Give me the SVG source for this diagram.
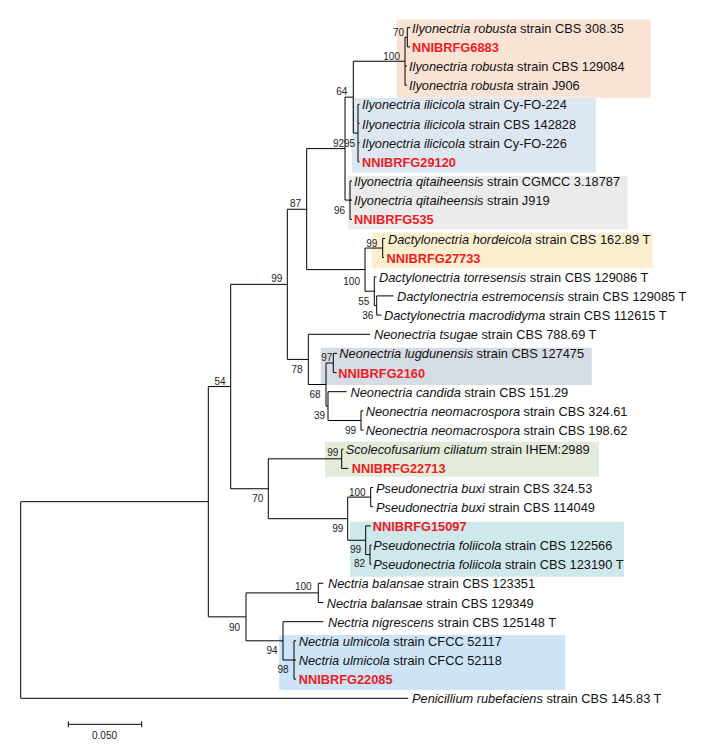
<svg xmlns="http://www.w3.org/2000/svg" width="702" height="750" viewBox="0 0 702 750">
<style>
.lf{font-family:"Liberation Sans",Arial,sans-serif;font-size:12.8px;fill:#111}
.i{font-style:italic}
.red{font-family:"Liberation Sans",Arial,sans-serif;font-size:12.8px;font-weight:bold;fill:#EE1C25}
.bs{font-family:"Liberation Sans",Arial,sans-serif;font-size:10px;fill:#222}
.br{fill:none;stroke:#000;stroke-width:1}
</style>
<rect width="702" height="750" fill="#fff"/>
<g id="highlights">
<rect x="396.7" y="19.5" width="254" height="78.2" fill="#FAE3D5"/>
<rect x="351.7" y="98" width="244.3" height="74.7" fill="#DCE7F2"/>
<rect x="348.3" y="176" width="279.4" height="53.3" fill="#EBEBEB"/>
<rect x="371.7" y="232.7" width="281" height="35.6" fill="#FCEFD0"/>
<rect x="320.7" y="347.7" width="271" height="37.3" fill="#D6DCE4"/>
<rect x="325" y="441.7" width="274" height="35" fill="#E2ECD9"/>
<rect x="350" y="521.7" width="274" height="55" fill="#CFE8EC"/>
<rect x="279.3" y="635" width="286" height="55" fill="#CCE4F6"/>
</g>
<g id="connectors" class="br">
<path d="M20.7 501.7V698.3M20.7 698.3H408.3M20.7 501.7H208.3"/>
<path d="M208.3 386.55V616.85M208.3 386.55H230.7M208.3 616.85H246"/>
<path d="M230.7 284.35V488.75M230.7 284.35H287.3M230.7 488.75H268.3"/>
<path d="M287.3 209.25V359.4M287.3 209.25H306.7M287.3 359.4H308.3"/>
<path d="M306.7 148.6V269.6M306.7 148.6H345M306.7 269.6H365"/>
<path d="M345 97.15V200.1M345 97.15H353.3M345 200.1H350"/>
<path d="M353.3 61.25V133.05M353.3 61.25H405M353.3 133.05H358"/>
<path d="M405 37.3V85.2M405 37.3H407.3M405 66H407M405 85.2H407"/>
<path d="M407.3 27.7V46.9M407.3 27.7H410M407.3 46.9H410"/>
<path d="M358 104.3V161.8M358 104.3H359.5M358 123.5H359.5M358 142.7H359.5M358 161.8H359.5"/>
<path d="M350 181V219.3M350 181H352M350 200.1H352M350 219.3H352"/>
<path d="M365 248.05V291.2M365 248.05H382.7M365 291.2H374.3"/>
<path d="M382.7 238.5V257.6M382.7 238.5H385M382.7 257.6H384"/>
<path d="M374.3 276.8V305.5M374.3 276.8H376.5M374.3 305.5H376.7"/>
<path d="M376.7 295.9V315.1M376.7 295.9H393.5M376.7 315.1H381.3"/>
<path d="M308.3 334.3V384.5M308.3 334.3H370M308.3 384.5H326"/>
<path d="M326 363V406.1M326 363H333.3M326 406.1H328"/>
<path d="M333.3 353.4V372.6M333.3 353.4H337M333.3 372.6H336.7"/>
<path d="M328 391.7V420.5M328 391.7H346.7M328 420.5H361"/>
<path d="M361 410.9V430.1M361 410.9H363.5M361 430.1H363.5"/>
<path d="M268.3 458.8V518.7M268.3 458.8H341.7M268.3 518.7H347.7"/>
<path d="M341.7 449.2V468.4M341.7 449.2H343.5M341.7 468.4H348.3"/>
<path d="M347.7 497.1V540.25M347.7 497.1H370.7M347.7 540.25H365.7"/>
<path d="M370.7 487.5V506.7M370.7 487.5H373M370.7 506.7H373"/>
<path d="M365.7 525.9V554.6M365.7 525.9H370.7M365.7 554.6H370"/>
<path d="M370 545V564.2M370 545H371.5M370 564.2H371.5"/>
<path d="M246 592.9V640.8M246 592.9H318.3M246 640.8H283"/>
<path d="M318.3 583.3V602.5M318.3 583.3H323.3M318.3 602.5H323.3"/>
<path d="M283 621.7V660M283 621.7H323.3M283 660H294"/>
<path d="M294 640.8V679.1M294 640.8H296M294 660H296M294 679.1H296"/>
</g>
<g id="bootstrap" class="bs" text-anchor="end">
<text x="404" y="36">70</text>
<text x="400" y="59.5">100</text>
<text x="347.3" y="95">64</text>
<text x="344" y="146.5">92</text>
<text x="355" y="146.5">95</text>
<text x="345" y="214">96</text>
<text x="301" y="207">87</text>
<text x="377.3" y="246.5">99</text>
<text x="360" y="284.5">100</text>
<text x="369.3" y="305">55</text>
<text x="373.3" y="319">36</text>
<text x="282.3" y="282">99</text>
<text x="332.3" y="360.5">97</text>
<text x="302.7" y="373">78</text>
<text x="320.7" y="398">68</text>
<text x="325" y="419">39</text>
<text x="356" y="434">99</text>
<text x="225.7" y="384.5">54</text>
<text x="338.3" y="455.5">99</text>
<text x="365.7" y="495.5">100</text>
<text x="263.3" y="502">70</text>
<text x="343.3" y="532">99</text>
<text x="361" y="553">99</text>
<text x="365" y="567">82</text>
<text x="311.7" y="590">100</text>
<text x="240" y="630.5">90</text>
<text x="277.7" y="654">94</text>
<text x="288.7" y="673">98</text>
</g>
<g id="leaf1"><text class="lf" x="412" y="32.7"><tspan class="i">Ilyonectria robusta</tspan> strain CBS 308.35</text></g>
<g id="leaf2"><text class="red" x="412" y="51.9">NNIBRFG6883</text></g>
<g id="leaf3"><text class="lf" x="409" y="71"><tspan class="i">Ilyonectria robusta</tspan> strain CBS 129084</text></g>
<g id="leaf4"><text class="lf" x="409" y="90.2"><tspan class="i">Ilyonectria robusta</tspan> strain J906</text></g>
<g id="leaf5"><text class="lf" x="362" y="109.3"><tspan class="i">Ilyonectria ilicicola</tspan> strain Cy-FO-224</text></g>
<g id="leaf6"><text class="lf" x="362" y="128.5"><tspan class="i">Ilyonectria ilicicola</tspan> strain CBS 142828</text></g>
<g id="leaf7"><text class="lf" x="362" y="147.7"><tspan class="i">Ilyonectria ilicicola</tspan> strain Cy-FO-226</text></g>
<g id="leaf8"><text class="red" x="362" y="166.8">NNIBRFG29120</text></g>
<g id="leaf9"><text class="lf" x="354" y="186"><tspan class="i">Ilyonectria qitaiheensis</tspan> strain CGMCC 3.18787</text></g>
<g id="leaf10"><text class="lf" x="354" y="205.1"><tspan class="i">Ilyonectria qitaiheensis</tspan> strain J919</text></g>
<g id="leaf11"><text class="red" x="354" y="224.3">NNIBRFG535</text></g>
<g id="leaf12"><text class="lf" x="388" y="243.5"><tspan class="i">Dactylonectria hordeicola</tspan> strain CBS 162.89 T</text></g>
<g id="leaf13"><text class="red" x="386.5" y="262.6">NNIBRFG27733</text></g>
<g id="leaf14"><text class="lf" x="379" y="281.8"><tspan class="i">Dactylonectria torresensis</tspan> strain CBS 129086 T</text></g>
<g id="leaf15"><text class="lf" x="397" y="300.9"><tspan class="i">Dactylonectria estremocensis</tspan> strain CBS 129085 T</text></g>
<g id="leaf16"><text class="lf" x="384" y="320.1"><tspan class="i">Dactylonectria macrodidyma</tspan> strain CBS 112615 T</text></g>
<g id="leaf17"><text class="lf" x="374" y="339.3"><tspan class="i">Neonectria tsugae</tspan> strain CBS 788.69 T</text></g>
<g id="leaf18"><text class="lf" x="339.3" y="358.4"><tspan class="i">Neonectria lugdunensis</tspan> strain CBS 127475</text></g>
<g id="leaf19"><text class="red" x="338.3" y="377.6">NNIBRFG2160</text></g>
<g id="leaf20"><text class="lf" x="350.5" y="396.7"><tspan class="i">Neonectria candida</tspan> strain CBS 151.29</text></g>
<g id="leaf21"><text class="lf" x="365.7" y="415.9"><tspan class="i">Neonectria neomacrospora</tspan> strain CBS 324.61</text></g>
<g id="leaf22"><text class="lf" x="365.7" y="435.1"><tspan class="i">Neonectria neomacrospora</tspan> strain CBS 198.62</text></g>
<g id="leaf23"><text class="lf" x="345.7" y="454.2"><tspan class="i">Scolecofusarium ciliatum</tspan> strain IHEM:2989</text></g>
<g id="leaf24"><text class="red" x="351.7" y="473.4">NNIBRFG22713</text></g>
<g id="leaf25"><text class="lf" x="376" y="492.5"><tspan class="i">Pseudonectria buxi</tspan> strain CBS 324.53</text></g>
<g id="leaf26"><text class="lf" x="376" y="511.7"><tspan class="i">Pseudonectria buxi</tspan> strain CBS 114049</text></g>
<g id="leaf27"><text class="red" x="372.7" y="530.9">NNIBRFG15097</text></g>
<g id="leaf28"><text class="lf" x="373.3" y="550"><tspan class="i">Pseudonectria foliicola</tspan> strain CBS 122566</text></g>
<g id="leaf29"><text class="lf" x="373.3" y="569.2"><tspan class="i">Pseudonectria foliicola</tspan> strain CBS 123190 T</text></g>
<g id="leaf30"><text class="lf" x="328" y="588.3"><tspan class="i">Nectria balansae</tspan> strain CBS 123351</text></g>
<g id="leaf31"><text class="lf" x="326.7" y="607.5"><tspan class="i">Nectria balansae</tspan> strain CBS 129349</text></g>
<g id="leaf32"><text class="lf" x="328" y="626.7"><tspan class="i">Nectria nigrescens</tspan> strain CBS 125148 T</text></g>
<g id="leaf33"><text class="lf" x="298.7" y="645.8"><tspan class="i">Nectria ulmicola</tspan> strain CFCC 52117</text></g>
<g id="leaf34"><text class="lf" x="298.7" y="665"><tspan class="i">Nectria ulmicola</tspan> strain CFCC 52118</text></g>
<g id="leaf35"><text class="red" x="298.7" y="684.1">NNIBRFG22085</text></g>
<g id="leaf36"><text class="lf" x="412" y="703.3"><tspan class="i">Penicillium rubefaciens</tspan> strain CBS 145.83 T</text></g>
<g id="scalebar">
<path class="br" d="M68.3 724.3H141.7M68.3 721.3V727.3M141.7 721.3V727.3"/>
<text class="bs" x="104.5" y="739" text-anchor="middle">0.050</text>
</g>
</svg>
